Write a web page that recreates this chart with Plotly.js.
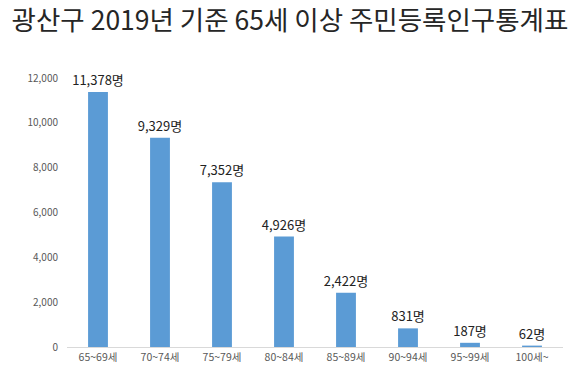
<!DOCTYPE html>
<html><head><meta charset="utf-8">
<script src="https://cdn.plot.ly/plotly-3.0.1.min.js"></script>
<style>html,body{margin:0;padding:0;background:#fff}#c{width:580px;height:375px}</style>
</head><body><div id="c"></div>
<script>
const categories = ['65~69세','70~74세','75~79세','80~84세','85~89세','90~94세','95~99세','100세~'];
const population = [11378, 9329, 7352, 4926, 2422, 831, 187, 62];
const tickValues = [0, 2000, 4000, 6000, 8000, 10000, 12000];
const tickLabels = ['0','2,000','4,000','6,000','8,000','10,000','12,000'];
const labels = population.map(v => v.toLocaleString('en-US') + '명');

const font = '"Noto Sans CJK KR", "Noto Sans", sans-serif';
Plotly.newPlot('c', [{
  type: 'bar', x: categories, y: population, width: 0.32,
  marker: {color: '#5B9BD5'},
  text: labels, textposition: 'outside', cliponaxis: false, constraintext: 'none',
  textfont: {family: font, size: 13, color: '#222'},
  hoverinfo: 'none'
}], {
  width: 580, height: 375,
  margin: {l: 67, r: 17, t: 78, b: 28},
  paper_bgcolor: '#fff', plot_bgcolor: '#fff',
  title: {text: '광산구 2019년 기준 65세 이상 주민등록인구통계표', x: 0.5, xanchor: 'center', y: 0.944, yanchor: 'middle',
    font: {family: font, size: 26.5, color: '#262626'}},
  xaxis: {showgrid: false, showline: true, linecolor: '#d9d9d9', linewidth: 1, ticks: '',
    tickfont: {family: font, size: 10.5, color: '#595959'}},
  yaxis: {range: [0, 12000], showgrid: false, zeroline: false, showline: false,
    tickvals: tickValues, ticktext: tickLabels, ticks: '', ticklabelstandoff: 8,
    tickfont: {family: font, size: 10, color: '#595959'}},
  showlegend: false
}, {staticPlot: true});
</script></body></html>
